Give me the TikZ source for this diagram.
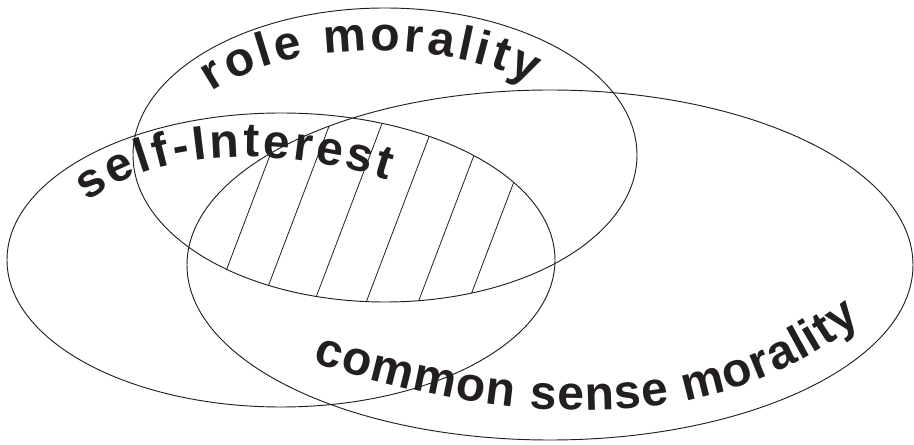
\documentclass[tikz,border=0pt]{standalone}
\usepackage{fontspec}
\setmainfont{Liberation Sans}
\usetikzlibrary{decorations.text}
\definecolor{ink}{HTML}{231F20}
\begin{document}
\begin{tikzpicture}[x=0.75pt,y=-0.75pt,
  ring/.style={draw=ink, line width=0.7pt},
  hatchline/.style={draw=ink, line width=0.6pt},
  arctext/.style={decorate, decoration={text along path, text align={fit to path}, text color=ink}}]
\useasboundingbox (0,0) rectangle (914,445);
\coordinate (cA) at (385,155);
\coordinate (cB) at (281,260);
\coordinate (cC) at (550,265);
% hatching in the triple intersection
\begin{scope}
  \clip (cA) ellipse [x radius=252, y radius=147];
  \clip (cB) ellipse [x radius=274, y radius=147];
  \clip (cC) ellipse [x radius=363, y radius=175];
  \foreach \x in {291,339,391,443,495,545}
    \draw[hatchline] ({\x+7.6},80) -- ({\x-87.4},330);
\end{scope}
% ellipses
\draw[ring] (cA) ellipse [x radius=252, y radius=147];
\draw[ring] (cB) ellipse [x radius=274, y radius=147];
\draw[ring] (cC) ellipse [x radius=363, y radius=175];
% labels along arcs
\path[arctext, decoration={text={|\fontsize{36}{40}\selectfont\bfseries|role morality}}]
  (212,92) .. controls (290,38) and (448,39) .. (532,84);
\path[arctext, decoration={text={|\fontsize{36}{40}\selectfont\bfseries|self-Interest}}]
  (88,202) .. controls (165,142) and (295,150) .. (388,180);
\path[arctext, decoration={text={|\fontsize{36}{40}\selectfont\bfseries|common sense morality}}]
  (313,362) .. controls (499,423) and (706,443) .. (861,321);
\end{tikzpicture}
\end{document}
